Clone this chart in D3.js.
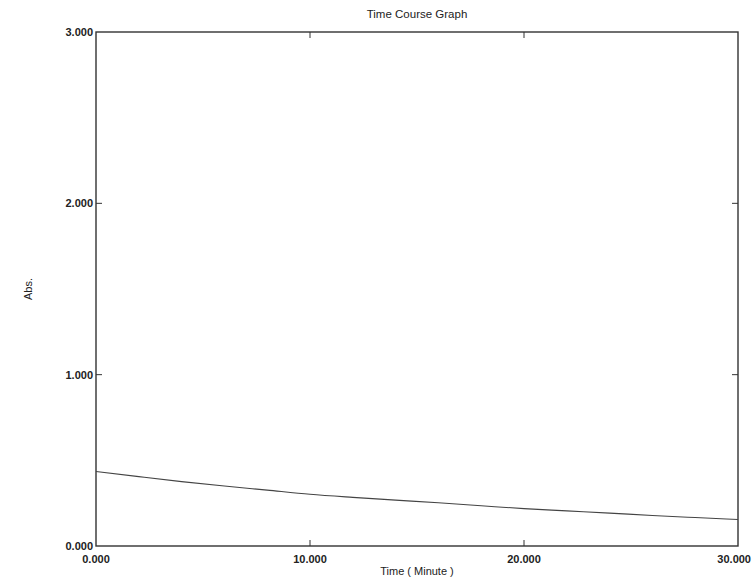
<!DOCTYPE html>
<html>
<head>
<meta charset="utf-8">
<script src="https://cdn.jsdelivr.net/npm/d3@7"></script>
<style>
  body { margin: 0; background: #fff; }
  text { font-family: "Liberation Sans", Arial, sans-serif; fill: #222; }
</style>
</head>
<body>
<svg id="chart" width="753" height="584"></svg>
<script>
// time (minutes) and absorbance
const times = [0, 2, 4, 6, 8, 10, 12, 14, 16, 18, 20, 22, 24, 26, 28, 30];
const absValues = [0.435, 0.405, 0.376, 0.35, 0.326, 0.302, 0.284, 0.268, 0.252, 0.235, 0.218, 0.205, 0.192, 0.178, 0.166, 0.155];
const xTicks = [0, 10, 20, 30];
const yTicks = [0, 1, 2, 3];

const width = 753, height = 584;
const plotLeft = 96, plotRight = 738, plotTop = 32, plotBottom = 546;
const tickLen = 6;

const svg = d3.select("#chart");
const x = d3.scaleLinear().domain([0, 30]).range([plotLeft, plotRight]);
const y = d3.scaleLinear().domain([0, 3]).range([plotBottom, plotTop]);
const fmt = d3.format(".3f");

// frame
svg.append("rect")
  .attr("x", plotLeft).attr("y", plotTop)
  .attr("width", plotRight - plotLeft).attr("height", plotBottom - plotTop)
  .attr("fill", "none").attr("stroke", "#333").attr("stroke-width", 1.4);

// bottom / top ticks (inward) + labels
svg.append("g").selectAll("line").data(xTicks.slice(1, -1)).join("line")
  .attr("x1", d => x(d)).attr("x2", d => x(d))
  .attr("y1", plotBottom).attr("y2", plotBottom - tickLen)
  .attr("stroke", "#333");
svg.append("g").selectAll("line").data(xTicks.slice(1, -1)).join("line")
  .attr("x1", d => x(d)).attr("x2", d => x(d))
  .attr("y1", plotTop).attr("y2", plotTop + tickLen)
  .attr("stroke", "#333");
// last label would run off the page, so pin it to the right edge
svg.append("g").selectAll("text").data(xTicks).join("text")
  .attr("x", (d, i) => i === xTicks.length - 1 ? width - 2 : x(d))
  .attr("y", 563)
  .attr("text-anchor", (d, i) => i === xTicks.length - 1 ? "end" : "middle")
  .style("font-size", "11px").style("font-weight", "bold")
  .text(d => fmt(d));

// left / right ticks (inward) + labels
svg.append("g").selectAll("line").data(yTicks.slice(1, -1)).join("line")
  .attr("x1", plotLeft).attr("x2", plotLeft + tickLen)
  .attr("y1", d => y(d)).attr("y2", d => y(d))
  .attr("stroke", "#333");
svg.append("g").selectAll("line").data(yTicks.slice(1, -1)).join("line")
  .attr("x1", plotRight).attr("x2", plotRight - tickLen)
  .attr("y1", d => y(d)).attr("y2", d => y(d))
  .attr("stroke", "#333");
svg.append("g").selectAll("text").data(yTicks).join("text")
  .attr("x", plotLeft - 3).attr("y", d => y(d) + 4)
  .attr("text-anchor", "end")
  .style("font-size", "11px").style("font-weight", "bold")
  .text(d => fmt(d));

// curve
const line = d3.line()
  .x((d, i) => x(times[i]))
  .y(d => y(d))
  .curve(d3.curveMonotoneX);
svg.append("path")
  .datum(absValues)
  .attr("d", line)
  .attr("fill", "none")
  .attr("stroke", "#444")
  .attr("stroke-width", 1.1);

// titles
svg.append("text")
  .attr("x", (plotLeft + plotRight) / 2).attr("y", 18)
  .attr("text-anchor", "middle")
  .style("font-size", "11.5px")
  .text("Time Course Graph");
svg.append("text")
  .attr("x", (plotLeft + plotRight) / 2).attr("y", 575)
  .attr("text-anchor", "middle")
  .style("font-size", "11px")
  .text("Time ( Minute )");
svg.append("text")
  .attr("transform", `translate(32, ${(plotTop + plotBottom) / 2}) rotate(-90)`)
  .attr("text-anchor", "middle")
  .style("font-size", "11px")
  .text("Abs.");
</script>
</body>
</html>
